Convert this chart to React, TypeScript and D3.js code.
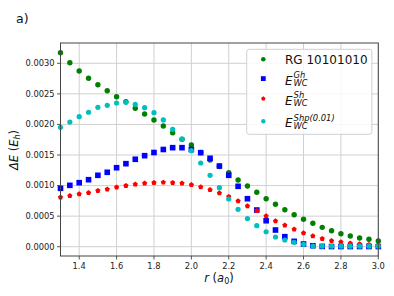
import React from "react";
import * as d3 from "d3";

const rValues = [1.3,1.35,1.4,1.45,1.5,1.55,1.6,1.65,1.7,1.75,1.8,1.85,1.9,1.95,2.0,2.05,2.1,2.15,2.2,2.25,2.3,2.35,2.4,2.45,2.5,2.55,2.6,2.65,2.7,2.75,2.8,2.85,2.9,2.95,3.0];

const rgValues = [3.174,3.010,2.874,2.755,2.650,2.552,2.454,2.372,2.264,2.171,2.073,1.974,1.865,1.757,1.664,1.541,1.418,1.312,1.211,1.091,0.993,0.890,0.785,0.694,0.605,0.523,0.448,0.383,0.317,0.262,0.213,0.175,0.142,0.121,0.093];

const ghValues = [0.955,1.004,1.047,1.096,1.168,1.217,1.292,1.358,1.430,1.489,1.541,1.590,1.620,1.620,1.590,1.538,1.446,1.320,1.168,0.988,0.785,0.600,0.425,0.273,0.164,0.088,0.044,0.016,0.005,0.003,0.003,0.003,0.003,0.003,0.003];

const shValues = [0.808,0.834,0.862,0.883,0.916,0.939,0.972,0.998,1.021,1.037,1.047,1.053,1.047,1.037,1.013,0.977,0.932,0.878,0.818,0.748,0.666,0.589,0.502,0.420,0.350,0.285,0.224,0.175,0.131,0.098,0.077,0.056,0.044,0.033,0.023];

const shpValues = [1.953,2.040,2.127,2.199,2.280,2.313,2.351,2.362,2.329,2.274,2.192,2.073,1.920,1.759,1.570,1.369,1.168,0.965,0.780,0.612,0.461,0.344,0.245,0.159,0.110,0.072,0.039,0.011,0.008,0.008,0.008,0.008,0.008,0.008,0.008];

const xTicks = [1.4,1.6,1.8,2.0,2.2,2.4,2.6,2.8,3.0];
const yTicks = [0,0.0005,0.001,0.0015,0.002,0.0025,0.003];

const FONT = "DejaVu Sans";

type Shape = "circle" | "square" | "pentagon";
const seriesList: { name: string; values: number[]; color: string; shape: Shape }[] = [
  { name: "rg", values: rgValues, color: "#008000", shape: "circle" },
  { name: "gh", values: ghValues, color: "#0000ff", shape: "square" },
  { name: "sh", values: shValues, color: "#ff0000", shape: "pentagon" },
  { name: "shp", values: shpValues, color: "#00bfbf", shape: "circle" },
];

function pentagonPath(cx: number, cy: number, r: number) {
  const pts: [number, number][] = [];
  for (let i = 0; i < 5; i++) {
    const a = -Math.PI / 2 + (i * 2 * Math.PI) / 5;
    pts.push([cx + r * Math.cos(a), cy + r * Math.sin(a)]);
  }
  return "M" + pts.map((p) => p[0].toFixed(2) + "," + p[1].toFixed(2)).join("L") + "Z";
}

function Marker({ shape, x, y, color, size }: { shape: Shape; x: number; y: number; color: string; size: number }) {
  if (shape === "circle") return <circle cx={x} cy={y} r={size} fill={color} />;
  if (shape === "square")
    return <rect x={x - size} y={y - size} width={size * 2} height={size * 2} fill={color} />;
  return <path d={pentagonPath(x, y, size)} fill={color} />;
}

export default function App() {
  const W = 394, H = 296;
  const left = 60.5, right = 378.3, top = 43, bottom = 256;
  const x = d3.scaleLinear().domain([1.3, 3.0]).range([left, right]);
  const y = d3.scaleLinear().domain([-0.000152, 0.003332]).range([bottom, top]);
  const sizes: Record<string, number> = { rg: 2.7, gh: 2.8, sh: 2.7, shp: 2.6 };
  const legendSizes: Record<string, number> = { rg: 2.3, gh: 2.4, sh: 2.3, shp: 2.2 };
  const legendY = [59.3, 78.6, 98.6, 121.2];
  const mx = 263.3, tx = 285;

  return (
    <svg width={W} height={H} style={{ position: "absolute", left: 0, top: 0, background: "#fff" }} fontFamily={FONT}>
      <rect x={0} y={0} width={W} height={H} fill="#fff" />
      {/* grid */}
      {xTicks.map((t) => (
        <line key={"gx" + t} x1={x(t)} x2={x(t)} y1={top} y2={bottom} stroke="#d0d0d0" strokeWidth={1} />
      ))}
      {yTicks.map((t) => (
        <line key={"gy" + t} x1={left} x2={right} y1={y(t)} y2={y(t)} stroke="#d0d0d0" strokeWidth={1} />
      ))}
      {/* data */}
      {seriesList.map((s) =>
        s.values.map((v, i) => (
          <Marker key={s.name + i} shape={s.shape} x={x(rValues[i])} y={y(v / 1000)} color={s.color} size={sizes[s.name]} />
        ))
      )}
      {/* spines */}
      <rect x={left} y={top} width={right - left} height={bottom - top} fill="none" stroke="#444" strokeWidth={1} />
      {/* x ticks */}
      {xTicks.map((t) => (
        <g key={"xt" + t}>
          <line x1={x(t)} x2={x(t)} y1={bottom} y2={bottom + 3.5} stroke="#444" strokeWidth={0.9} />
          <text x={x(t)} y={269.3} fontSize={8.3} textAnchor="middle" fill="#222">
            {t.toFixed(1)}
          </text>
        </g>
      ))}
      {/* y ticks */}
      {yTicks.map((t) => (
        <g key={"yt" + t}>
          <line x1={left - 3.5} x2={left} y1={y(t)} y2={y(t)} stroke="#444" strokeWidth={0.9} />
          <text x={54.5} y={y(t)} dy="0.35em" fontSize={8.3} textAnchor="end" fill="#222">
            {t.toFixed(4)}
          </text>
        </g>
      ))}
      {/* axis labels */}
      <text x={219} y={281.5} fontSize={11.5} textAnchor="middle" fill="#111">
        <tspan fontStyle="italic">r</tspan>
        <tspan> (</tspan>
        <tspan fontStyle="italic">a</tspan>
        <tspan fontSize={8} dy={2}>0</tspan>
        <tspan dy={-2}>)</tspan>
      </text>
      <text transform="translate(17.5,150) rotate(-90)" fontSize={11.5} textAnchor="middle" fill="#111">
        <tspan fontStyle="italic">ΔE</tspan>
        <tspan> (</tspan>
        <tspan fontStyle="italic">E</tspan>
        <tspan fontSize={8} fontStyle="italic" dy={2}>h</tspan>
        <tspan dy={-2}>)</tspan>
      </text>
      <text x={16} y={23} fontSize={12.5} fill="#111">a)</text>
      {/* legend */}
      <rect x={246.7} y={49.3} width={125.2} height={85} rx={2.5} fill="#fff" fillOpacity={0.85} stroke="#d0d0d0" strokeWidth={1} />
      {seriesList.map((s, i) => (
        <Marker key={"lg" + s.name} shape={s.shape} x={mx} y={legendY[i]} color={s.color} size={legendSizes[s.name]} />
      ))}
      <text x={tx} y={legendY[0] + 4.3} fontSize={12} fill="#111">RG 10101010</text>
      {[
        { sup: "Gh" },
        { sup: "Sh" },
        { sup: "Shp(0.01)" },
      ].map((e, i) => {
        const by = legendY[i + 1] + 6;
        return (
          <g key={"le" + i} fill="#111">
            <text x={tx} y={by} fontSize={12} fontStyle="italic">E</text>
            <text x={tx + 8.6} y={by - 6.3} fontSize={8.4} fontStyle="italic">{e.sup}</text>
            <text x={tx + 8.6} y={by + 1.8} fontSize={8.4} fontStyle="italic">WC</text>
          </g>
        );
      })}
    </svg>
  );
}
